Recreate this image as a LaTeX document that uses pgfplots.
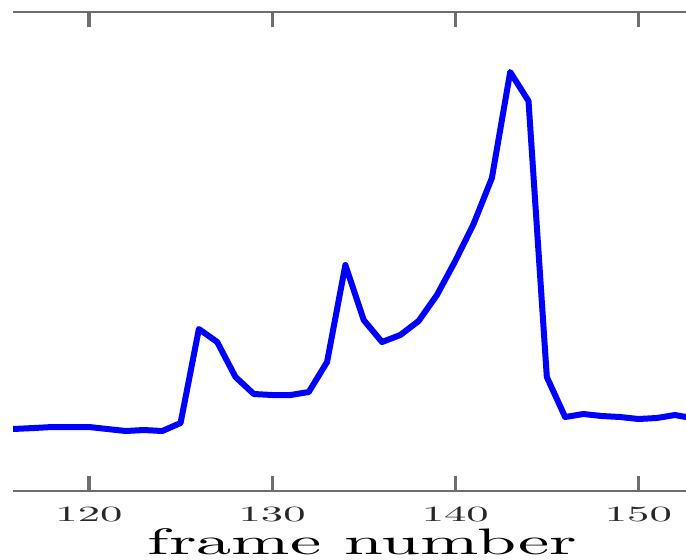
\documentclass[border=0pt]{standalone}
\usepackage{pgfplots}
\pgfplotsset{compat=1.18}
\definecolor{axgray}{RGB}{110,110,110}
\definecolor{lblgray}{RGB}{40,40,40}
\begin{document}
\begin{tikzpicture}
\begin{axis}[
  scale only axis,
  width=336.5pt, height=239.5pt,
  xmin=115.85, xmax=152.6,
  ymin=0, ymax=479,
  axis x line=box,
  axis y line=none,
  ytick=\empty,
  xtick={120,130,140,150},
  xtick pos=both,
  tick align=inside,
  major tick length=7.5pt,
  axis line style={axgray, line width=1pt},
  every tick/.style={axgray, line width=1.6pt},
  xticklabel={\resizebox{33.5pt}{7pt}{\pgfmathprintnumber{\tick}}},
  xticklabel style={anchor=north, inner sep=0pt, yshift=-8pt, text=lblgray},
  xlabel={\resizebox{214.5pt}{13pt}{frame number}},
  every axis x label/.style={at={(axis description cs:0.5,0)}, anchor=base, yshift=-31.8pt, xshift=6.5pt, text=black, inner sep=0pt},
]
\addplot[blue, line width=3pt, line join=round, line cap=round] coordinates {
(115.85,62) (117,63) (118,64) (119,64) (120,64) (121,62) (122,60) (123,61) (124,60)
(125,68) (126,162) (127,149) (128,114) (129,97) (130,96) (131,96) (132,99)
(133,129) (134,226) (135,171) (136,149) (137,156) (138,170) (139,196) (140,230)
(141,267) (142,313) (143,419) (144,390) (145,114) (146,74) (147,77) (148,75)
(149,74) (150,72) (151,73) (152,76) (152.6,74)
};
\end{axis}
\pgfresetboundingbox
\path[use as bounding box] ([shift={(-6.5pt,-34pt)}]current axis.south west) rectangle ([shift={(0pt,6pt)}]current axis.north east);
\end{tikzpicture}
\end{document}
